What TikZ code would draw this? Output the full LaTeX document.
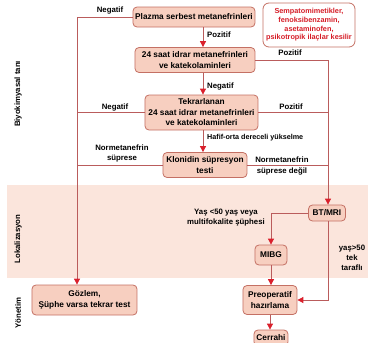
\documentclass[tikz,border=0pt]{standalone}
\usepackage{fontspec}
\setmainfont{Liberation Sans}
\usepackage{xcolor}
\usepackage{tikz}
\usetikzlibrary{shapes, arrows.meta}

\definecolor{kutudolgu}{RGB}{247,207,192}
\definecolor{kutucizgi}{RGB}{196,112,100}
\definecolor{hat}{RGB}{186,92,92}
\definecolor{okucu}{RGB}{218,32,44}
\definecolor{bant}{RGB}{251,229,220}
\definecolor{uyari}{RGB}{214,30,40}

\begin{document}
\begin{tikzpicture}[x=1pt,y=-1pt]
            \tikzstyle{kutu}=[rectangle, rounded corners=4pt, draw=kutucizgi, fill=kutudolgu, line width=0.8pt, align=center, inner sep=1pt, font=\fontsize{8.3}{10.5}\selectfont\bfseries]
            \tikzstyle{etiket}=[align=center, inner sep=0pt, font=\fontsize{7.8}{10}\selectfont\bfseries]
            \tikzstyle{yan}=[rotate=90, font=\fontsize{7.8}{9}\selectfont\bfseries]
            \tikzstyle{hatstil}=[draw=hat, line width=0.8pt]
            \tikzstyle{ok}=[hatstil, -{Triangle[length=6pt,width=6pt,color=okucu]}]
            \useasboundingbox (0,0) rectangle (368,343);
            \fill[bant] (7,185) rectangle (368,278);
            % bolum adlari
            \node[yan] (biyo) at (18,94) {Biyokimyasal tanı};
            \node[yan] (lokal) at (18,239) {Lokalizasyon};
            \node[yan] (yonetim) at (18,313) {Yönetim};
            % kutular
            \node[kutu, minimum width=122pt, minimum height=20pt] (plazma) at (194,17) {Plazma serbest metanefrinleri};
            \node[kutu, fill=white, text=uyari, rounded corners=6pt, minimum width=92pt, minimum height=44pt, font=\fontsize{7.3}{8.7}\selectfont\bfseries] (ilac) at (309,25) {Sempatomimetikler,\\fenoksibenzamin,\\asetaminofen,\\psikotropik ilaçlar kesilir};
            \node[kutu, minimum width=120pt, minimum height=25pt] (idrar) at (195,60) {24 saat idrar metanefrinleri\\ve katekolaminleri};
            \node[kutu, minimum width=113pt, minimum height=35pt] (tekrar) at (201.5,112.5) {Tekrarlanan\\24 saat idrar metanefrinleri\\ve katekolaminleri};
            \node[kutu, minimum width=84pt, minimum height=25pt] (klonidin) at (205,165) {Klonidin süpresyon\\testi};
            \node[kutu, minimum width=37pt, minimum height=16pt] (btmri) at (327,213) {BT/MRI};
            \node[kutu, minimum width=32pt, minimum height=20pt] (mibg) at (271,255) {MIBG};
            \node[kutu, minimum width=54pt, minimum height=29pt] (preop) at (270,300) {Preoperatif\\hazırlama};
            \node[kutu, minimum width=34pt, minimum height=16pt] (cerrahi) at (271,338) {Cerrahi};
            \node[kutu, minimum width=105pt, minimum height=30pt] (gozlem) at (84.5,300) {Gözlem,\\Şüphe varsa tekrar test};
            % hatlar
            \coordinate (sol) at (77,17);
            \coordinate (sag) at (328,60);
            \coordinate (eksen) at (203,0);
            \draw[hatstil] (plazma.west) -- (sol);
            \draw[ok] (sol) -- (sol |- gozlem.north);
            \draw[hatstil] (tekrar.west) -- (tekrar.west -| sol);
            \draw[hatstil] (klonidin.west) -- (klonidin.west -| sol);
            \draw[ok] (plazma.south -| eksen) -- (idrar.north -| eksen);
            \draw[ok] (idrar.south -| eksen) -- (tekrar.north -| eksen);
            \draw[ok] (tekrar.south -| eksen) -- (klonidin.north -| eksen);
            \draw[hatstil] (idrar.east |- sag) -- (sag);
            \draw[ok] (sag) -- (sag |- btmri.north);
            \draw[hatstil] (tekrar.east) -- (tekrar.east -| sag);
            \draw[hatstil] (klonidin.east) -- (klonidin.east -| sag);
            \draw[ok] (btmri.west) -| (mibg.north);
            \draw[ok] (btmri.south -| sag) |- (preop.east);
            \draw[ok] (mibg.south) -- (mibg.south |- preop.north);
            \draw[ok] (preop.south) -- (preop.south |- cerrahi.north);
            % etiketler
            \node[etiket] (neg1) at (110,10) {Negatif};
            \node[etiket, anchor=west] (poz1) at (207,35) {Pozitif};
            \node[etiket] (poz2) at (290,53) {Pozitif};
            \node[etiket, anchor=west] (neg2) at (207,86) {Negatif};
            \node[etiket] (neg3) at (115,107) {Negatif};
            \node[etiket] (poz3) at (291,107) {Pozitif};
            \node[etiket, anchor=west, font=\fontsize{7.2}{8}\selectfont\bfseries] (hafif) at (207,138) {Hafif-orta dereceli yükselme};
            \node[etiket] (nsup) at (122,153) {Normetanefrin\\süprese};
            \node[etiket] (nsupd) at (282,166) {Normetanefrin\\süprese değil};
            \node[etiket] (yaskucuk) at (226,218) {Yaş <50 yaş veya\\multifokalite şüphesi};
            \node[etiket] (yasbuyuk) at (352,258) {yaş>50\\tek\\taraflı};
\end{tikzpicture}
\end{document}
